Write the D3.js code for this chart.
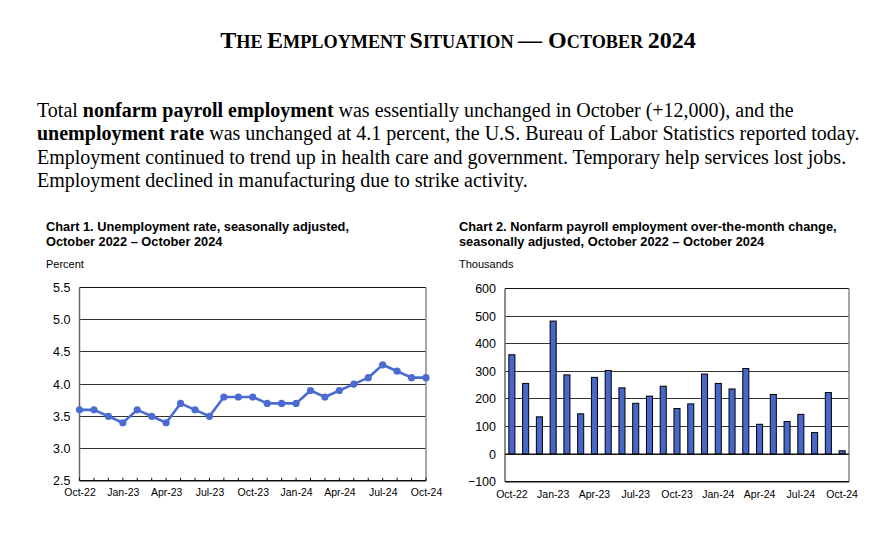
<!DOCTYPE html>
<html><head><meta charset="utf-8">
<script src="https://cdn.jsdelivr.net/npm/d3@7"></script>
<style>
html,body{margin:0;padding:0;background:#fff;}
svg{display:block;}
</style></head>
<body>
<svg id="c" width="892" height="534"></svg>
<script>
const months = ["Oct-22","Nov-22","Dec-22","Jan-23","Feb-23","Mar-23","Apr-23","May-23","Jun-23","Jul-23","Aug-23","Sep-23","Oct-23","Nov-23","Dec-23","Jan-24","Feb-24","Mar-24","Apr-24","May-24","Jun-24","Jul-24","Aug-24","Sep-24","Oct-24"];
const tickMonths = ["Oct-22","Jan-23","Apr-23","Jul-23","Oct-23","Jan-24","Apr-24","Jul-24","Oct-24"];
const unemploymentRate = [3.6,3.6,3.5,3.4,3.6,3.5,3.4,3.7,3.6,3.5,3.8,3.8,3.8,3.7,3.7,3.7,3.9,3.8,3.9,4.0,4.1,4.3,4.2,4.1,4.1];
const payrollChange = [360,256,135,482,287,146,278,303,240,184,210,246,165,182,290,256,236,310,108,216,118,144,78,223,12];
const rateTicks = [2.5,3.0,3.5,4.0,4.5,5.0,5.5];
const payrollTicks = [-100,0,100,200,300,400,500,600];

const svg = d3.select("#c");
const SERIF = "'Liberation Serif','Times New Roman',serif";
const SANS = "'Liberation Sans',Arial,sans-serif";

// Title (manual small caps)
const title = svg.append("text").attr("x", 458).attr("y", 48).attr("text-anchor","middle")
  .attr("font-family", SERIF).attr("font-weight","bold").attr("fill","#000");
const titleParts = [["T",24],["HE ",18.2],["E",24],["MPLOYMENT ",18.2],["S",24],["ITUATION ",18.2],["— ",24],["O",24],["CTOBER ",18.2],["2024",24]];
titleParts.forEach(p => title.append("tspan").attr("font-size", p[1]).text(p[0]));

// Paragraph
const para = [
  [["Total ",0],["nonfarm payroll employment",1],[" was essentially unchanged in October (+12,000), and the",0]],
  [["unemployment rate",1],[" was unchanged at 4.1 percent, the U.S. Bureau of Labor Statistics reported today.",0]],
  [["Employment continued to trend up in health care and government. Temporary help services lost jobs.",0]],
  [["Employment declined in manufacturing due to strike activity.",0]]
];
para.forEach((line,i) => {
  const t = svg.append("text").attr("x",37).attr("y",117 + i*23.3)
    .attr("font-family",SERIF).attr("font-size",20).attr("fill","#000");
  line.forEach(s => t.append("tspan").attr("font-weight", s[1] ? "bold" : "normal").text(s[0]));
});

function header(x, lines, unit){
  lines.forEach((l,i) => svg.append("text").attr("x",x).attr("y",231 + i*15)
    .attr("font-family",SANS).attr("font-weight","bold").attr("font-size",12.8).attr("fill","#000").text(l));
  svg.append("text").attr("x",x).attr("y",268).attr("font-family",SANS).attr("font-size",11).attr("fill","#000").text(unit);
}
header(46, ["Chart 1. Unemployment rate, seasonally adjusted,","October 2022 – October 2024"], "Percent");
header(459, ["Chart 2. Nonfarm payroll employment over-the-month change,","seasonally adjusted, October 2022 – October 2024"], "Thousands");

function frameAndGrid(g, x0, x1, y, ticks, fmt){
  g.append("g").selectAll("line").data(ticks).join("line")
    .attr("x1",x0).attr("x2",x1).attr("y1",d=>y(d)).attr("y2",d=>y(d))
    .attr("stroke", "#333").attr("stroke-width",1)
    .attr("shape-rendering","crispEdges");
  const ax = g.append("g").attr("transform",`translate(${x0},0)`)
    .call(d3.axisLeft(y).tickValues(ticks).tickFormat(fmt).tickSize(0).tickPadding(9));
  ax.select(".domain").remove();
  ax.selectAll("text").attr("font-family",SANS).attr("font-size",12.5).attr("fill","#000");
  const [yb, yt] = y.range();
  g.append("line").attr("x1",x0).attr("x2",x1).attr("y1",yt).attr("y2",yt).attr("stroke","#111").attr("stroke-width",1.2);
  g.append("line").attr("x1",x1).attr("x2",x1).attr("y1",yt).attr("y2",yb).attr("stroke","#888").attr("stroke-width",1.5);
  g.append("line").attr("x1",x0).attr("x2",x0).attr("y1",yt).attr("y2",yb).attr("stroke","#666").attr("stroke-width",1.5);
  g.append("line").attr("x1",x0).attr("x2",x1).attr("y1",yb).attr("y2",yb).attr("stroke","#111").attr("stroke-width",1.5);
}

// Chart 1
{
  const g = svg.append("g");
  const L = 79.5, R = 426, T = 287.5, B = 480.7;
  const x = d3.scalePoint().domain(months).range([L,R]);
  const y = d3.scaleLinear().domain([2.5,5.5]).range([B,T]);
  frameAndGrid(g, L, R, y, rateTicks, d3.format(".1f"));
  g.append("g").selectAll("line").data(months).join("line")
    .attr("x1",d=>x(d)).attr("x2",d=>x(d)).attr("y1",B).attr("y2",B-3)
    .attr("stroke","#111").attr("stroke-width",1);
  const xa = g.append("g").attr("transform",`translate(0,${B})`)
    .call(d3.axisBottom(x).tickValues(tickMonths).tickSize(0).tickPadding(8));
  xa.select(".domain").remove();
  xa.selectAll("text").attr("font-family",SANS).attr("font-size",10.5).attr("fill","#000");
  const line = d3.line().x((d,i)=>x(months[i])).y(d=>y(d));
  g.append("path").datum(unemploymentRate).attr("d",line).attr("fill","none")
    .attr("stroke","#4a6bcf").attr("stroke-width",2.6).attr("stroke-linejoin","round");
  g.append("g").selectAll("circle").data(unemploymentRate).join("circle")
    .attr("cx",(d,i)=>x(months[i])).attr("cy",d=>y(d)).attr("r",3.6).attr("fill","#4a6bcf");
}

// Chart 2
{
  const g = svg.append("g");
  const L = 505, R = 849, T = 288.5, B = 481.7;
  const x = d3.scaleBand().domain(months).range([L,R]).paddingInner(0.56).paddingOuter(0.28);
  const y = d3.scaleLinear().domain([-100,600]).range([B,T]);
  frameAndGrid(g, L, R, y, payrollTicks, d3.format("d"));
  g.append("g").selectAll("rect").data(payrollChange).join("rect")
    .attr("x",(d,i)=>x(months[i])).attr("width",x.bandwidth())
    .attr("y",d=>y(Math.max(0,d))).attr("height",d=>Math.abs(y(d)-y(0)))
    .attr("fill","#4767c9").attr("stroke","#000").attr("stroke-width",1);
  g.append("line").attr("x1",L).attr("x2",R).attr("y1",y(0)).attr("y2",y(0)).attr("stroke","#111").attr("stroke-width",1.2);
  const xa = g.append("g").attr("transform",`translate(0,${B})`)
    .call(d3.axisBottom(x).tickValues(tickMonths).tickSize(0).tickPadding(9));
  xa.select(".domain").remove();
  xa.selectAll("text").attr("font-family",SANS).attr("font-size",10.5).attr("fill","#000");
}
</script>
</body></html>
